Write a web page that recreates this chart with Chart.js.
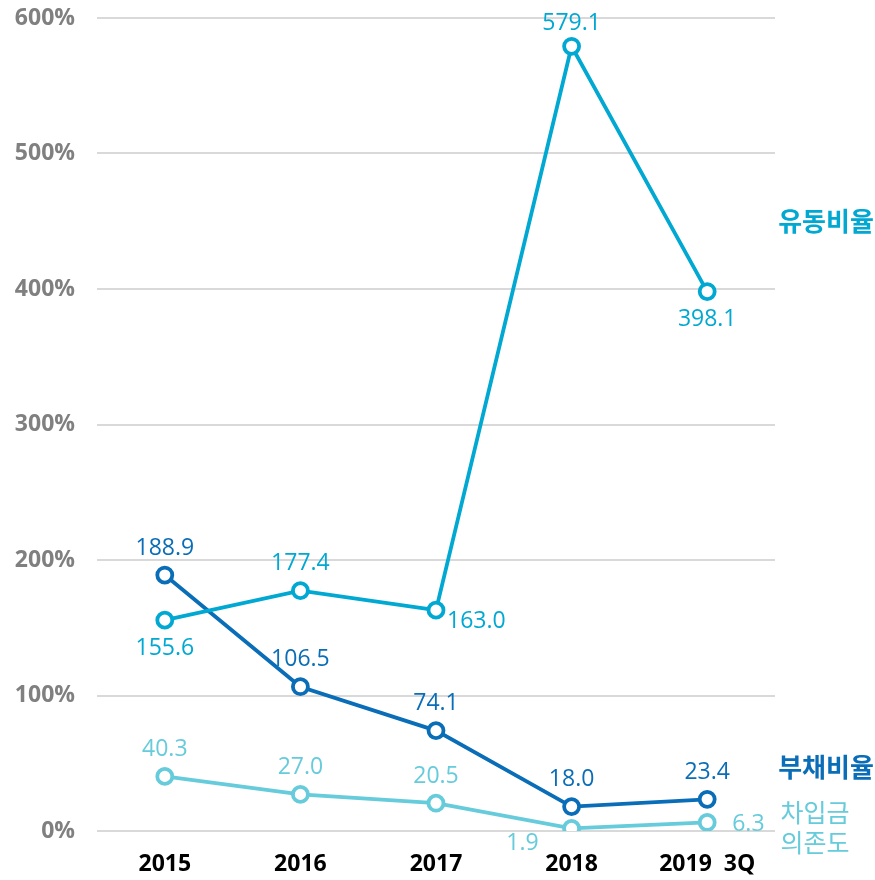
<!DOCTYPE html>
<html>
<head>
<meta charset="utf-8">
<script src="https://cdn.jsdelivr.net/npm/chart.js@4"></script>
<style>
  body { margin: 0; background: #fff; }
  #wrap { width: 875px; height: 880px; }
</style>
</head>
<body>
<div id="wrap"><canvas id="ratioChart"></canvas></div>
<script>
// data
var years = ["2015", "2016", "2017", "2018", "2019  3Q"];
var currentRatio = [155.6, 177.4, 163.0, 579.1, 398.1];   // 유동비율
var debtRatio = [188.9, 106.5, 74.1, 18.0, 23.4];          // 부채비율
var borrowDep = [40.3, 27.0, 20.5, 1.9, 6.3];              // 차입금 의존도
var yTicks = [0, 100, 200, 300, 400, 500, 600];

var c1 = "#00a8d2";
var c2 = "#0a6db7";
var c3 = "#66cbdb";
var FONT = "'Open Sans', 'Noto Sans CJK KR', sans-serif";

// where each value label goes, relative to its point
var pos1 = ["below", "above", "rightBelow", "top", "below"];
var pos2 = ["above", "above", "above", "above", "above"];
var pos3 = ["above", "above", "above", "leftBelow", "right"];

var labelPlugin = {
  id: 'labelPlugin',
  afterDatasetsDraw: function(chart) {
    var ctx = chart.ctx;
    var positions = [pos1, pos2, pos3];
    ctx.save();
    ctx.font = "23px " + FONT;
    chart.data.datasets.forEach(function(ds, i) {
      var meta = chart.getDatasetMeta(i);
      ctx.fillStyle = ds.borderColor;
      meta.data.forEach(function(pt, j) {
        var txt = ds.data[j].toFixed(1);
        var p = positions[i][j];
        var x = pt.x, y = pt.y;
        ctx.textBaseline = 'middle';
        ctx.textAlign = 'center';
        if (p == "above") { y -= 27; }
        else if (p == "top") { y -= 23; }
        else if (p == "below") { y += 28; }
        else if (p == "rightBelow") { x += 11; y += 11; ctx.textAlign = 'left'; }
        else if (p == "leftBelow") { x -= 33; y += 15; ctx.textAlign = 'right'; }
        else if (p == "right") { x += 25; y += 2; ctx.textAlign = 'left'; }
        ctx.fillText(txt, x, y);
      });
    });

    // series names on the right
    ctx.textAlign = 'center';
    ctx.textBaseline = 'middle';
    ctx.font = "bold 26px " + FONT;
    ctx.fillStyle = c1;
    ctx.fillText("유동비율", 826, 224);
    ctx.fillStyle = c2;
    ctx.fillText("부채비율", 826, 770);
    ctx.font = "25px " + FONT;
    ctx.fillStyle = c3;
    ctx.fillText("차입금", 815, 815);
    ctx.fillText("의존도", 815, 845);
    ctx.restore();
  }
};

function lineSet(label, data, color) {
  return {
    label: label,
    data: data,
    borderColor: color,
    backgroundColor: "#ffffff",
    borderWidth: 3.8,
    pointRadius: 7.5,
    pointHoverRadius: 7.5,
    pointBorderWidth: 3.8,
    pointBackgroundColor: "#ffffff",
    pointBorderColor: color,
    tension: 0
  };
}

var ctx = document.getElementById('ratioChart').getContext('2d');
var ratioChart = new Chart(ctx, {
  type: 'line',
  data: {
    labels: years,
    datasets: [
      lineSet("유동비율", currentRatio, c1),
      lineSet("부채비율", debtRatio, c2),
      lineSet("차입금 의존도", borrowDep, c3)
    ]
  },
  options: {
    responsive: true,
    maintainAspectRatio: false,
    animation: false,
    layout: { autoPadding: false, padding: { top: 18, right: 100, left: 0, bottom: 0 } },
    plugins: {
      legend: { display: false },
      tooltip: { enabled: false }
    },
    scales: {
      x: {
        offset: true,
        grid: { display: false, drawTicks: false },
        border: { display: false },
        ticks: {
          color: "#000",
          font: { family: FONT, size: 23, weight: 'bold' },
          padding: 20
        },
        afterFit: function(axis) {
          axis.height = 49;
          axis.paddingLeft = 0;
          axis.paddingRight = 0;
        }
      },
      y: {
        min: 0,
        max: 600,
        afterBuildTicks: function(axis) {
          axis.ticks = yTicks.map(function(v) { return { value: v }; });
        },
        grid: { color: "#d9d9d9", lineWidth: 2, drawTicks: false },
        border: { display: false },
        ticks: {
          color: "#808080",
          font: { family: FONT, size: 23, weight: 'bold' },
          padding: 22,
          callback: function(v) { return v + "%"; }
        },
        afterFit: function(axis) {
          axis.width = 97;
          axis.paddingTop = 0;
          axis.paddingBottom = 0;
        }
      }
    }
  },
  plugins: [labelPlugin]
});
</script>
</body>
</html>
